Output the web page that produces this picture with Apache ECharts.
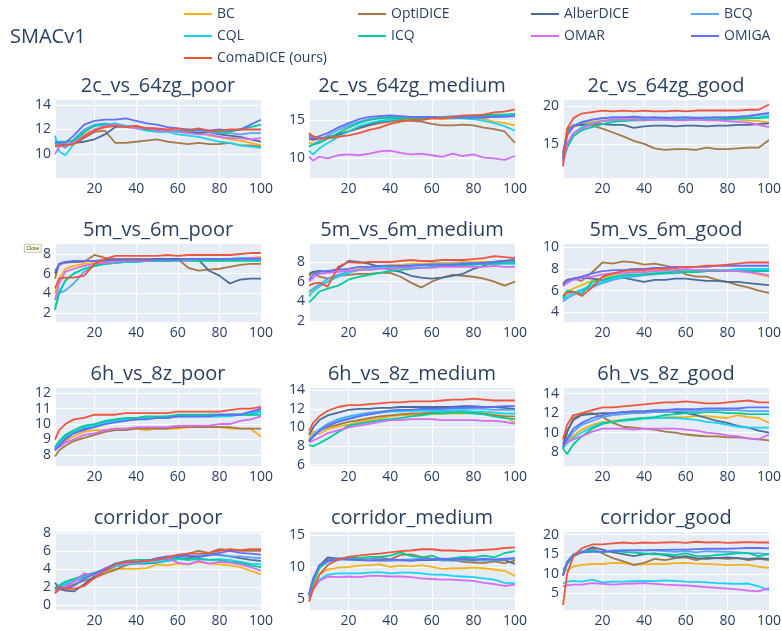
<!DOCTYPE html>
<html>
<head>
<meta charset="utf-8">
<script src="https://cdn.jsdelivr.net/npm/echarts@6/dist/echarts.min.js"></script>
<style>
  html, body { margin: 0; padding: 0; background: #fff; }
  #main { width: 782px; height: 631px; }
</style>
</head>
<body>
<div id="main"></div>
<script>
// training steps sampled for every panel
var steps = [1,3,6,10,15,20,25,30,35,40,45,50,55,60,65,70,75,80,85,90,95,100];
var methods = ['BC','OptiDICE','AlberDICE','BCQ','CQL','ICQ','OMAR','OMIGA','ComaDICE (ours)'];
var panelTitles = ['2c_vs_64zg_poor','2c_vs_64zg_medium','2c_vs_64zg_good',
  '5m_vs_6m_poor','5m_vs_6m_medium','5m_vs_6m_good',
  '6h_vs_8z_poor','6h_vs_8z_medium','6h_vs_8z_good',
  'corridor_poor','corridor_medium','corridor_good'];

// one row per method, same order as `methods`
var c2_poor = [
  [10.6,10.7,10.8,11.0,11.6,12.0,12.2,12.3,12.2,12.3,12.1,12.0,11.9,11.8,11.7,11.8,11.5,11.4,11.2,11.1,10.9,10.7],
  [10.6,10.7,10.7,10.8,11.3,11.8,11.9,10.9,10.9,11.0,11.1,11.2,11.0,10.9,10.8,10.9,10.8,10.8,10.9,10.7,10.7,10.6],
  [10.9,10.8,10.7,10.9,11.0,11.2,11.6,12.2,12.3,12.2,12.1,12.0,11.9,11.9,11.8,11.7,11.8,11.6,11.5,11.4,11.2,11.0],
  [11.3,10.8,10.5,11.2,12.0,12.4,12.5,12.4,12.3,12.2,12.0,11.9,11.9,11.8,11.8,11.9,11.8,11.7,11.7,11.6,11.7,11.7],
  [11.5,10.2,9.9,10.8,11.8,12.3,12.4,12.5,12.3,12.1,11.9,11.8,11.8,11.6,11.5,11.4,11.2,11.0,10.9,10.7,10.6,10.5],
  [10.9,11.0,11.0,11.1,11.8,12.3,12.4,12.4,12.2,12.2,12.0,11.9,11.9,11.9,11.8,12.0,11.9,11.8,11.8,12.0,12.2,12.4],
  [10.0,10.6,10.7,10.9,11.5,12.0,12.3,12.4,12.2,12.1,12.1,11.9,11.9,11.8,11.7,11.6,11.6,11.4,11.3,11.3,11.2,11.3],
  [11.0,10.9,10.9,11.5,12.4,12.7,12.8,12.8,12.9,12.7,12.5,12.4,12.2,12.1,12.0,12.0,11.9,12.0,11.9,12.0,12.4,12.8],
  [10.7,10.7,10.7,10.8,11.4,11.9,12.2,12.3,12.2,12.3,12.1,12.1,12.0,12.1,11.9,12.1,11.9,11.9,12.0,12.0,12.0,12.0]
];
var c2_medium = [
  [12.0,11.9,12.2,12.6,13.1,13.6,14.1,14.5,14.8,15.0,15.1,15.1,15.2,15.2,15.1,15.2,15.2,15.2,15.1,14.8,14.6,14.3],
  [13.0,12.9,12.6,12.7,13.1,13.5,13.9,14.3,14.6,14.8,15.0,14.9,14.8,14.5,14.3,14.3,14.4,14.3,14.0,13.8,13.5,12.0],
  [12.5,12.4,12.6,12.8,13.1,13.5,14.0,14.4,14.8,15.0,15.2,15.3,15.3,15.3,15.3,15.4,15.3,15.4,15.4,15.5,15.5,15.5],
  [11.6,11.8,12.3,13.0,13.7,14.3,14.8,15.1,15.3,15.4,15.4,15.4,15.4,15.3,15.4,15.5,15.4,15.4,15.3,15.4,15.5,15.6],
  [11.0,10.5,11.3,12.0,12.8,13.5,14.2,14.6,14.9,15.0,15.2,15.3,15.3,15.3,15.3,15.2,15.2,15.1,14.9,14.6,14.2,13.6],
  [11.5,11.8,12.0,12.6,13.3,14.0,14.6,15.0,15.2,15.3,15.2,15.3,15.2,15.3,15.3,15.4,15.5,15.6,15.6,15.7,15.7,15.8],
  [10.2,9.7,10.2,10.0,10.4,10.5,10.4,10.6,10.9,11.0,10.7,10.5,10.6,10.4,10.2,10.6,10.3,10.5,10.1,10.0,9.8,10.3],
  [12.8,12.6,12.9,13.3,14.0,14.6,15.1,15.4,15.5,15.6,15.5,15.4,15.4,15.4,15.3,15.3,15.3,15.3,15.3,15.4,15.4,15.5],
  [13.3,12.8,12.6,12.6,12.8,13.0,13.3,13.7,14.0,14.5,14.8,15.0,15.0,15.2,15.2,15.4,15.6,15.6,15.7,16.0,16.1,16.4]
];
var c2_good = [
  [13.0,16.0,17.2,17.6,17.9,18.1,18.2,18.3,18.3,18.3,18.2,18.3,18.2,18.2,18.3,18.2,18.3,18.2,18.2,18.1,18.0,17.8],
  [13.5,16.8,17.5,17.5,17.4,17.0,16.5,16.0,15.4,15.0,14.4,14.2,14.3,14.3,14.2,14.5,14.3,14.3,14.4,14.5,14.5,15.5],
  [13.8,16.5,17.4,17.5,17.6,17.6,17.5,17.5,17.1,17.3,17.4,17.4,17.3,17.4,17.4,17.3,17.4,17.4,17.5,17.5,17.6,17.7],
  [13.2,16.4,17.4,17.9,18.2,18.4,18.5,18.5,18.5,18.4,18.5,18.5,18.4,18.5,18.5,18.4,18.5,18.5,18.5,18.6,18.8,19.0],
  [12.8,15.0,16.4,17.2,17.7,18.0,18.1,18.2,18.2,18.2,18.3,18.2,18.3,18.2,18.2,18.3,18.2,18.3,18.3,18.4,18.5,18.7],
  [12.6,14.5,16.0,16.8,17.2,17.6,17.9,18.0,18.1,18.1,18.2,18.2,18.2,18.2,18.3,18.2,18.2,18.3,18.4,18.4,18.4,18.5],
  [12.5,15.0,16.4,17.0,17.6,18.0,18.2,18.2,18.2,18.1,18.2,18.2,18.1,18.1,18.2,18.1,18.1,18.0,17.9,17.8,17.5,17.2],
  [13.0,16.2,17.3,17.8,18.2,18.4,18.5,18.5,18.6,18.5,18.5,18.4,18.5,18.5,18.4,18.5,18.5,18.5,18.6,18.7,18.9,19.1],
  [12.0,17.0,18.4,19.0,19.2,19.4,19.3,19.4,19.3,19.4,19.3,19.3,19.4,19.3,19.4,19.4,19.4,19.4,19.4,19.5,19.5,20.2]
];
var m5_poor = [
  [4.0,5.5,6.5,6.8,7.0,7.1,7.2,7.2,7.3,7.3,7.4,7.4,7.4,7.5,7.5,7.5,7.5,7.5,7.5,7.6,7.6,7.7],
  [5.5,7.0,7.1,7.2,7.2,7.9,7.6,7.5,7.5,7.5,7.5,7.5,7.4,7.5,6.6,6.3,6.4,6.5,6.7,6.9,7.0,7.0],
  [6.0,7.0,7.2,7.2,7.3,7.3,7.4,7.4,7.4,7.4,7.4,7.5,7.5,7.5,7.4,7.4,6.3,5.8,5.0,5.4,5.5,5.5],
  [3.5,4.0,4.3,5.0,6.2,6.8,7.0,7.1,7.2,7.2,7.3,7.3,7.3,7.4,7.4,7.4,7.5,7.5,7.5,7.5,7.5,7.5],
  [2.5,4.2,5.3,6.0,6.5,6.8,7.0,7.1,7.2,7.2,7.3,7.3,7.4,7.4,7.4,7.5,7.5,7.5,7.5,7.6,7.6,7.6],
  [2.3,4.0,5.3,6.0,6.5,6.8,7.0,7.1,7.2,7.2,7.3,7.3,7.3,7.3,7.3,7.3,7.3,7.3,7.3,7.3,7.3,7.3],
  [3.3,5.0,6.2,6.5,6.8,7.0,7.1,7.2,7.3,7.3,7.3,7.4,7.4,7.4,7.4,7.5,7.5,7.5,7.5,7.5,7.6,7.6],
  [6.3,6.9,7.2,7.3,7.3,7.3,7.3,7.4,7.4,7.4,7.4,7.4,7.4,7.4,7.5,7.5,7.5,7.5,7.5,7.5,7.5,7.5],
  [4.5,5.5,5.6,5.6,5.8,7.0,7.5,7.8,7.8,7.8,7.8,7.8,7.9,7.8,7.9,7.9,7.9,7.9,7.9,8.0,8.1,8.1]
];
var m5_medium = [
  [4.8,5.2,5.5,6.0,6.5,7.0,7.3,7.5,7.6,7.7,7.7,7.8,7.8,7.9,7.9,7.9,8.0,8.0,8.0,8.0,8.1,8.1],
  [6.6,7.0,6.5,6.3,6.6,6.7,6.8,6.8,6.9,6.9,6.5,5.9,5.4,6.0,6.4,6.7,6.6,6.5,6.3,6.0,5.6,6.0],
  [6.8,7.0,7.1,7.0,7.3,8.1,8.0,7.8,7.5,7.2,7.0,6.6,6.4,6.3,6.4,6.6,6.8,7.3,7.6,8.0,8.1,8.2],
  [5.0,5.3,5.7,6.3,6.7,7.0,7.2,7.3,7.4,7.5,7.6,7.7,7.7,7.8,7.8,7.8,7.9,7.9,7.9,8.0,8.0,8.0],
  [4.5,5.0,5.5,6.0,6.5,6.9,7.2,7.3,7.4,7.5,7.5,7.6,7.6,7.7,7.7,7.7,7.7,7.8,7.8,7.8,7.8,7.8],
  [3.9,4.3,5.0,5.3,5.6,6.2,6.5,6.7,6.9,7.1,7.2,7.3,7.4,7.5,7.6,7.6,7.7,7.7,7.8,7.8,7.9,7.9],
  [6.0,6.4,6.8,6.9,7.0,7.1,7.2,7.2,7.3,7.3,7.4,7.4,7.4,7.4,7.5,7.5,7.5,7.5,7.5,7.6,7.5,7.5],
  [6.2,6.7,7.0,7.1,7.2,7.3,7.5,7.5,7.6,7.6,7.6,7.6,7.7,7.7,7.7,7.7,7.8,7.8,7.9,8.0,8.1,8.2],
  [5.6,5.8,5.9,5.5,7.5,8.0,7.9,8.0,8.0,8.0,8.1,8.2,8.1,8.1,8.2,8.2,8.2,8.3,8.4,8.6,8.5,8.4]
];
var m5_good = [
  [5.6,5.9,6.2,6.5,6.9,7.2,7.5,7.6,7.7,7.7,7.8,7.8,7.8,7.9,7.9,7.9,7.9,7.9,7.8,7.7,7.5,7.3],
  [6.7,7.0,7.1,6.9,7.7,8.6,8.5,8.7,8.6,8.4,8.5,8.3,8.1,7.5,7.3,7.3,7.0,6.8,6.5,6.3,6.0,5.8],
  [6.5,7.0,7.1,7.2,7.1,7.0,7.1,7.2,7.0,6.8,7.0,7.0,7.1,7.1,7.0,6.9,6.9,6.8,6.8,6.7,6.6,6.5],
  [5.0,5.3,5.6,6.0,6.3,6.7,7.0,7.2,7.3,7.4,7.5,7.6,7.6,7.7,7.7,7.8,7.8,7.8,7.9,7.9,7.9,7.9],
  [5.2,5.5,5.8,6.1,6.5,6.8,7.1,7.3,7.4,7.5,7.6,7.7,7.7,7.8,7.8,7.9,7.9,7.9,8.0,8.0,8.0,8.0],
  [5.3,6.0,5.9,5.7,6.8,7.0,7.3,7.4,7.5,7.5,7.6,7.6,7.7,7.7,7.7,7.8,7.8,7.8,7.8,7.8,7.8,7.8],
  [6.4,6.7,7.0,7.2,7.3,7.5,7.6,7.6,7.7,7.7,7.8,7.9,7.9,8.0,7.9,7.9,7.9,7.8,7.8,7.7,7.6,7.4],
  [6.6,6.9,7.1,7.3,7.6,7.8,7.9,7.9,8.0,8.0,8.1,8.1,8.2,8.2,8.2,8.2,8.3,8.3,8.3,8.3,8.3,8.3],
  [5.5,5.8,5.9,5.5,6.3,7.3,7.6,7.8,7.9,7.9,8.0,8.0,8.1,8.2,8.2,8.3,8.3,8.4,8.5,8.6,8.6,8.6]
];
var h6_poor = [
  [8.4,8.6,8.9,9.2,9.5,9.6,9.6,9.7,9.7,9.7,9.6,9.7,9.7,9.7,9.8,9.9,9.8,9.8,9.7,9.7,9.7,9.2],
  [7.9,8.3,8.6,8.9,9.1,9.3,9.5,9.6,9.6,9.7,9.7,9.7,9.7,9.8,9.8,9.8,9.8,9.8,9.8,9.7,9.7,9.7],
  [8.3,8.7,9.1,9.4,9.7,9.9,10.0,10.2,10.3,10.3,10.4,10.4,10.4,10.5,10.5,10.5,10.5,10.5,10.6,10.6,10.7,10.8],
  [8.4,8.8,9.2,9.5,9.8,9.9,10.1,10.2,10.3,10.3,10.4,10.4,10.5,10.5,10.5,10.5,10.6,10.6,10.6,10.6,10.7,10.9],
  [8.4,8.8,9.2,9.5,9.8,9.9,10.1,10.2,10.3,10.4,10.4,10.4,10.4,10.5,10.5,10.5,10.5,10.5,10.5,10.6,10.6,10.8],
  [8.5,8.9,9.3,9.6,9.9,10.0,10.2,10.3,10.4,10.4,10.5,10.5,10.5,10.6,10.6,10.6,10.6,10.6,10.6,10.6,10.6,10.6],
  [8.4,8.5,8.8,9.0,9.3,9.4,9.6,9.7,9.7,9.8,9.8,9.8,9.8,9.9,9.9,9.9,9.9,10.0,10.0,10.2,10.3,10.5],
  [8.3,8.6,9.0,9.4,9.6,9.8,10.0,10.1,10.2,10.3,10.3,10.4,10.4,10.5,10.5,10.5,10.5,10.6,10.6,10.6,10.8,11.0],
  [9.0,9.6,10.0,10.3,10.4,10.6,10.6,10.6,10.7,10.7,10.7,10.7,10.7,10.8,10.8,10.8,10.8,10.8,10.9,11.0,11.0,11.1]
];
var h6_medium = [
  [8.8,9.6,9.3,9.8,10.1,10.3,10.6,10.8,11.0,11.2,11.3,11.3,11.4,11.4,11.5,11.5,11.5,11.6,11.5,11.4,11.2,10.5],
  [8.6,9.2,9.7,10.0,10.3,10.6,10.8,11.0,11.2,11.3,11.4,11.5,11.5,11.6,11.7,11.8,11.7,11.6,11.5,11.3,11.2,11.2],
  [9.2,10.0,10.8,11.3,11.6,11.9,12.0,12.0,12.1,12.1,12.2,12.2,12.2,12.2,12.2,12.2,12.3,12.3,12.2,12.2,12.1,12.0],
  [8.6,9.2,9.8,10.4,10.9,11.2,11.4,11.6,11.7,11.8,11.9,11.9,11.9,12.0,12.0,12.0,12.0,12.0,12.0,11.9,11.9,11.9],
  [8.5,9.0,9.6,10.2,10.7,11.0,11.3,11.4,11.6,11.7,11.7,11.8,11.8,11.8,11.8,11.8,11.8,11.7,11.7,11.6,11.5,11.5],
  [8.1,8.0,8.3,8.8,9.5,10.2,10.4,10.6,10.8,10.9,11.0,11.2,11.3,11.5,11.5,11.6,11.6,11.5,11.4,11.2,11.0,10.9],
  [8.4,8.6,8.9,9.4,9.7,10.0,10.2,10.4,10.6,10.8,10.8,10.9,10.9,10.9,10.8,10.8,10.8,10.8,10.7,10.7,10.6,10.4],
  [8.5,9.0,9.6,10.2,10.6,10.9,11.2,11.4,11.6,11.8,11.9,11.9,12.0,12.0,12.0,12.1,12.1,12.2,12.2,12.2,12.3,12.3],
  [9.6,10.5,11.2,11.8,12.2,12.4,12.4,12.5,12.6,12.7,12.7,12.8,12.8,12.8,12.9,13.0,13.0,13.1,13.0,12.9,12.9,12.9]
];
var h6_good = [
  [8.6,9.1,9.7,10.3,10.8,11.1,11.2,11.3,11.4,11.5,11.5,11.6,11.6,11.6,11.7,11.7,11.6,11.5,11.8,11.6,11.5,11.0],
  [8.3,10.0,11.5,11.9,12.0,11.6,11.0,10.6,10.5,10.4,10.3,10.1,10.0,9.8,9.7,9.6,9.6,9.5,9.5,9.4,9.3,9.2],
  [8.8,10.2,11.3,11.8,11.9,12.0,12.0,12.1,12.1,12.1,12.2,12.2,12.1,12.0,11.8,11.5,11.2,11.0,10.7,10.5,10.2,10.0],
  [8.6,9.2,10.1,10.8,11.2,11.6,11.8,11.9,12.0,12.0,12.1,12.1,12.2,12.2,12.2,12.3,12.3,12.3,12.3,12.2,12.2,12.2],
  [8.4,8.9,9.5,10.0,10.6,11.0,11.1,11.2,11.3,11.4,11.5,11.5,11.5,11.4,11.3,11.1,11.0,10.8,10.6,10.5,10.5,10.5],
  [8.3,7.8,8.8,9.6,10.4,10.9,11.1,11.3,11.4,11.5,11.6,11.8,11.9,12.0,12.0,12.1,12.1,12.0,12.0,11.9,11.9,11.9],
  [8.6,9.0,9.3,9.6,10.1,10.4,10.4,10.4,10.3,10.4,10.4,10.4,10.4,10.3,10.2,10.0,9.9,9.7,9.6,9.4,9.3,9.8],
  [8.5,9.4,10.4,11.0,11.5,11.8,12.0,12.1,12.2,12.2,12.3,12.3,12.4,12.4,12.4,12.5,12.5,12.5,12.5,12.6,12.6,12.6],
  [9.3,10.8,11.8,12.0,12.3,12.6,12.6,12.7,12.8,12.9,13.0,13.1,13.1,13.2,13.1,13.0,13.0,13.1,13.2,13.3,13.1,13.1]
];
var cor_poor = [
  [1.7,2.0,2.2,2.6,3.1,3.4,3.8,4.0,4.0,4.0,4.1,4.5,4.4,4.6,4.5,4.8,4.6,4.5,4.4,4.2,3.8,3.4],
  [1.3,1.7,1.9,2.3,2.7,3.0,3.5,3.9,4.4,4.7,4.9,5.1,5.3,5.4,5.7,6.0,5.8,6.2,6.1,6.0,6.0,6.0],
  [2.5,1.8,1.6,1.5,2.3,3.2,3.8,4.3,4.5,4.6,4.6,4.7,4.9,5.1,5.2,5.4,5.5,5.6,5.4,5.2,5.0,4.9],
  [1.8,2.0,2.2,2.6,3.0,3.4,3.9,4.3,4.6,4.6,4.8,5.0,5.2,5.3,5.4,5.5,5.6,5.5,5.4,5.4,5.3,5.2],
  [1.7,2.1,2.4,2.8,3.2,3.5,4.0,4.3,4.5,4.7,4.7,4.8,4.9,5.1,5.0,5.2,5.0,5.1,5.0,4.8,4.6,4.5],
  [1.8,2.2,2.6,2.9,3.3,3.6,4.0,4.6,4.9,5.0,5.0,5.0,5.1,5.2,5.0,5.1,5.0,5.0,4.8,4.7,4.4,4.2],
  [1.5,1.8,2.0,2.6,3.5,3.3,4.1,4.5,4.6,4.8,4.9,5.0,5.2,4.7,4.5,4.9,4.6,4.8,4.7,4.5,4.2,3.8],
  [2.0,1.8,1.8,2.1,2.9,3.5,4.0,4.6,4.8,4.8,4.9,5.2,5.4,5.4,5.5,5.3,5.6,5.8,6.0,5.8,5.7,5.6],
  [1.3,2.0,1.8,1.8,2.1,3.0,3.8,4.5,4.8,4.8,4.9,5.0,5.3,5.6,5.7,5.7,5.8,6.0,6.2,6.1,6.2,6.2]
];
var cor_medium = [
  [5.0,7.0,8.8,9.6,9.9,10.0,10.2,10.3,10.4,10.0,10.2,10.1,10.3,10.0,9.7,9.8,9.8,9.9,9.8,9.6,9.4,8.6],
  [5.5,7.8,10.0,11.2,11.3,11.2,11.3,11.2,11.5,11.2,11.9,12.0,11.6,11.3,11.0,11.2,10.8,10.7,10.6,10.9,10.6,11.0],
  [5.5,8.0,10.2,11.5,11.3,11.2,11.1,11.1,11.0,11.0,11.1,11.0,11.1,11.1,11.1,11.0,11.1,11.0,11.1,11.0,11.1,10.5],
  [5.6,7.9,10.0,10.8,11.1,11.2,11.1,11.2,11.2,11.1,11.1,11.2,11.3,11.2,11.1,11.2,11.1,11.2,11.0,11.1,11.2,11.3],
  [5.2,6.5,8.0,8.8,9.0,9.0,9.0,9.1,9.2,9.0,9.1,9.1,9.0,8.8,8.8,8.6,8.5,8.4,8.2,8.0,7.5,7.4],
  [5.5,7.5,9.8,11.0,11.3,11.5,11.4,11.6,11.6,11.8,12.3,11.7,11.5,11.8,11.2,11.4,11.6,11.5,11.8,11.5,12.2,12.5],
  [5.0,6.5,7.8,8.5,8.4,8.5,8.4,8.6,8.6,8.5,8.5,8.4,8.2,8.1,8.0,8.0,7.9,7.8,7.5,7.3,7.0,7.2],
  [5.7,8.2,10.3,11.0,11.3,11.2,11.1,11.0,11.1,11.2,11.1,11.0,11.2,11.2,11.3,11.2,11.3,11.2,11.3,11.2,11.3,11.4],
  [4.5,6.5,8.8,10.3,11.2,11.6,11.8,12.0,12.1,12.3,12.5,12.6,12.8,12.8,12.6,12.6,12.5,12.6,12.7,12.8,13.0,13.1]
];
var cor_good = [
  [10.5,11.0,11.8,12.3,12.5,12.5,12.8,12.7,12.3,12.4,12.5,12.5,12.7,12.8,12.6,12.5,12.4,12.2,12.3,12.3,11.8,11.5],
  [9.5,12.5,14.5,15.5,16.5,15.2,14.0,13.2,12.3,12.8,13.8,13.5,14.0,14.2,13.5,14.2,14.0,13.8,14.0,13.5,13.8,13.5],
  [10.0,13.0,15.0,15.5,16.8,16.2,15.5,15.0,14.5,15.0,15.2,14.8,14.2,14.5,14.0,13.8,14.0,14.2,14.0,13.8,14.0,13.8],
  [9.5,13.0,15.0,15.8,15.8,15.6,16.0,16.0,16.0,16.0,16.0,15.8,15.6,15.8,15.5,15.8,15.7,15.6,15.5,15.3,15.2,15.0],
  [7.5,8.0,8.2,8.0,8.5,7.8,8.0,8.0,8.1,8.2,8.1,8.3,8.2,8.0,7.9,7.8,7.6,7.5,7.4,7.5,6.8,5.8],
  [11.0,12.5,14.5,15.5,16.0,15.5,15.8,15.6,15.4,15.2,15.0,15.0,14.8,15.2,14.6,14.5,14.8,15.0,15.2,15.3,14.5,15.0],
  [6.8,7.0,7.2,7.2,7.6,7.4,7.2,7.4,7.5,7.6,7.4,7.2,7.1,7.0,6.8,6.6,6.4,6.2,6.0,5.7,5.5,6.3],
  [9.5,13.0,14.8,15.5,15.6,15.6,15.8,16.0,16.0,16.0,16.1,16.1,16.2,16.2,16.3,16.4,16.4,16.4,16.5,16.6,16.6,16.5],
  [2.0,10.0,14.5,16.5,17.5,17.5,17.8,18.0,17.8,18.0,17.9,18.0,18.1,17.9,18.2,18.0,18.1,17.9,18.0,18.1,18.0,18.0]
];

var panels = [c2_poor, c2_medium, c2_good, m5_poor, m5_medium, m5_good,
  h6_poor, h6_medium, h6_good, cor_poor, cor_medium, cor_good];

// y range [min, max, tick step] per panel
var yMin  = [8.04, 7.43, 10.5, 1.08, 1.9, 3.1, 7.29, 5.86, 6.56, -0.56, 3.21, 0.72];
var yMax  = [14.49, 17.74, 20.92, 9.12, 9.93, 10.4, 12.39, 14.35, 14.69, 8.22, 15.68, 20.95];
var yStep = [2, 5, 5, 2, 2, 2, 1, 2, 2, 2, 5, 5];
var xTicks = [20, 40, 60, 80, 100];

var colors = ['#F7B21A','#A67843','#4B6C9B','#58A6F2','#19D3F3','#00CC96','#D46CF4','#636EFA','#EF553B'];

var font = '"Open Sans", "DejaVu Sans", sans-serif';
var ink = '#2a3f5f';
var colLeft = [55, 309, 563];
var rowTop = [99, 243, 387, 531];
var plotW = 206, plotH = 79;

function intOnly(v) {
  return Math.abs(v - Math.round(v)) < 1e-6 ? String(Math.round(v)) : '';
}
function xLabel(v) {
  return xTicks.indexOf(Math.round(v)) >= 0 && Math.abs(v - Math.round(v)) < 1e-6 ? String(Math.round(v)) : '';
}

var grids = [], xAxes = [], yAxes = [], series = [], titles = [], legends = [];

titles.push({
  text: 'SMACv1', left: 10, top: 27, padding: 0,
  textStyle: { fontSize: 20, fontWeight: 'normal', color: ink, fontFamily: font }
});

for (var p = 0; p < 12; p++) {
  var r = Math.floor(p / 3), c = p % 3;
  grids.push({
    left: colLeft[c], top: rowTop[r], width: plotW, height: plotH,
    show: true, backgroundColor: '#E5ECF6', borderWidth: 0,
    containLabel: false, outerBoundsMode: 'none'
  });
  xAxes.push({
    type: 'value', gridIndex: p, min: 1, max: 100,
    minInterval: 20, maxInterval: 20,
    axisLine: { show: false }, axisTick: { show: false },
    axisLabel: { formatter: xLabel, color: ink, fontSize: 14, fontFamily: font, margin: 4 },
    splitLine: { lineStyle: { color: '#fff', width: 1 } }
  });
  yAxes.push({
    type: 'value', gridIndex: p, min: yMin[p], max: yMax[p],
    minInterval: yStep[p], maxInterval: yStep[p],
    axisLine: { show: false }, axisTick: { show: false },
    axisLabel: { formatter: intOnly, color: ink, fontSize: 14, fontFamily: font, margin: 4 },
    splitLine: { lineStyle: { color: '#fff', width: 1 } }
  });
  titles.push({
    text: panelTitles[p], left: colLeft[c] + plotW / 2, top: rowTop[r] - 13,
    textAlign: 'center', textVerticalAlign: 'middle', padding: 0,
    textStyle: { fontSize: 20, fontWeight: 'normal', color: ink, fontFamily: font }
  });
  for (var m = 0; m < methods.length; m++) {
    var rows = panels[p][m];
    series.push({
      type: 'line', name: methods[m], xAxisIndex: p, yAxisIndex: p,
      data: steps.map(function (s, i) { return [s, rows[i]]; }),
      symbol: 'none', showSymbol: false,
      lineStyle: { width: 1.8, color: colors[m] },
      itemStyle: { color: colors[m] },
      emphasis: { disabled: true }
    });
  }
}

// legend laid out like a 4-column grid
var legX = [184, 358, 531, 691];
var legY = [16, 38, 60];
for (var k = 0; k < methods.length; k++) {
  legends.push({
    data: [methods[k]],
    left: legX[k % 4], top: legY[Math.floor(k / 4)] - 9,
    padding: 0, itemGap: 0, itemWidth: 28, itemHeight: 2,
    icon: 'rect',
    selectedMode: false,
    textStyle: { fontSize: 14, color: ink, fontFamily: font }
  });
}

var chart = echarts.init(document.getElementById('main'));
chart.setOption({
  animation: false,
  backgroundColor: '#fff',
  title: titles,
  legend: legends,
  grid: grids,
  xAxis: xAxes,
  yAxis: yAxes,
  series: series,
  graphic: [{
    type: 'group', left: 24, top: 244,
    children: [
      { type: 'rect', shape: { x: 0, y: 0, width: 17, height: 8 },
        style: { fill: '#ffffe1', stroke: '#999', lineWidth: 0.6 } },
      { type: 'text', x: 8.5, y: 4,
        style: { text: 'Close', fontSize: 5, fill: '#333', align: 'center', verticalAlign: 'middle' } }
    ]
  }]
});
</script>
</body>
</html>
